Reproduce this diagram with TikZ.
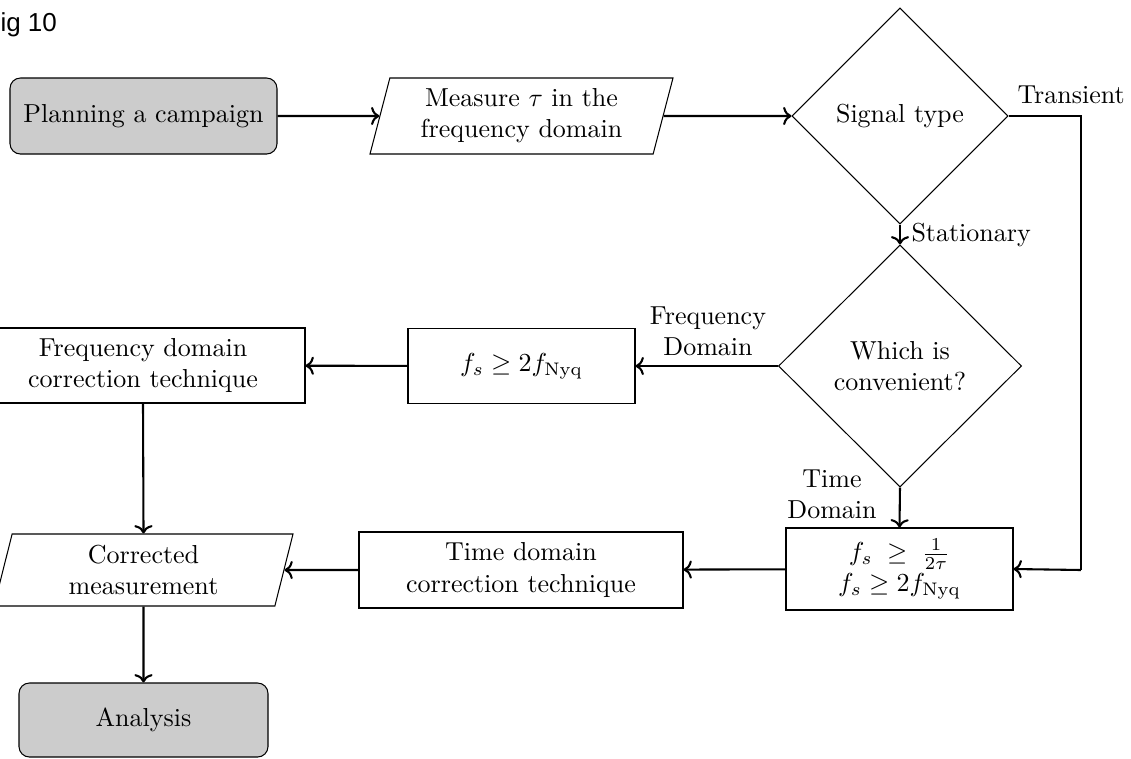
\documentclass[tikz,border=0pt]{standalone}
\usepackage{fontspec}
\newfontfamily\figfont{Liberation Sans}
\usetikzlibrary{shapes.geometric,arrows.meta}
% one drawing unit = one pixel of the final figure
\newcommand\pxu{0.3846pt}
\begin{document}
\begin{tikzpicture}[x=0.3846pt,y=-0.3846pt,
  box/.style={draw,thin,inner sep=0pt,align=center},
  terminal/.style={box,rectangle,rounded corners=4pt,fill=gray!40},
  process/.style={box,rectangle},
  io/.style={box,trapezium,trapezium left angle=70,trapezium right angle=110,trapezium stretches body},
  decision/.style={box,diamond},
  flow/.style={thick,-{To[length=3.2pt,width=7pt]}},
  wire/.style={thin},
  lbl/.style={inner sep=0pt,align=center}]
\useasboundingbox (0,0) rectangle (1131,758);

\node[lbl,anchor=base west,font=\figfont] (fig) at (0,31) {ig 10};

% nodes
\node[terminal,minimum width=267*\pxu,minimum height=76*\pxu] (plan) at (143.5,116) {Planning a campaign};
\node[io,minimum width=303*\pxu,minimum height=76*\pxu] (meas) at (521.5,116) {Measure $\tau$ in the\\frequency domain};
\node[decision,minimum width=216*\pxu,minimum height=216*\pxu] (sig) at (900,116) {Signal type};
\node[decision,minimum width=243*\pxu,minimum height=242*\pxu] (which) at (900,366) {Which is\\convenient?};
\node[process,minimum width=227*\pxu,minimum height=75*\pxu] (fsq) at (521.5,366) {$f_s \geq 2f_{\mathrm{Nyq}}$};
\node[process,minimum width=324*\pxu,minimum height=75*\pxu] (fdc) at (143,365.5) {Frequency domain\\correction technique};
\node[process,minimum width=227*\pxu,minimum height=82*\pxu] (fst) at (899.5,569) {$f_s \;\geq\; \frac{1}{2\tau}$\\$f_s \geq 2f_{\mathrm{Nyq}}$};
\node[process,minimum width=324*\pxu,minimum height=76*\pxu] (tdc) at (521,570) {Time domain\\correction technique};
\node[io,minimum width=299*\pxu,minimum height=72*\pxu] (corr) at (143.5,570) {Corrected\\measurement};
\node[terminal,minimum width=249*\pxu,minimum height=74*\pxu] (ana) at (143.5,720) {Analysis};

% branch labels
\node[lbl,anchor=base west] (ltrans) at (1017,103) {Transient};
\node[lbl,anchor=base west] (lstat) at (911,241) {Stationary};
\node[lbl] (lfreq) at (708,331) {Frequency\\Domain};
\node[lbl] (ltime) at (832,494) {Time\\Domain};

% connectors
\coordinate (tcorner) at (1081,116);
\coordinate (tbend) at (1081,570);
\draw[flow] (plan) -- (meas);
\draw[flow] (meas) -- (sig);
\draw[flow] (sig.south) -- (which.north);
\draw[flow] (which) -- (fsq);
\draw[flow] (fsq) -- (fdc);
\draw[flow] (fdc.south) -- (corr.north);
\draw[flow] (which.south) -- (fst.north);
\draw[flow] (fst) -- (tdc);
\draw[flow] (tdc) -- (corr);
\draw[flow] (corr.south) -- (ana.north);
\draw[wire] (sig.east) -- (tcorner) -- (tbend);
\draw[flow] (tbend) -- (fst.east);
\end{tikzpicture}
\end{document}
